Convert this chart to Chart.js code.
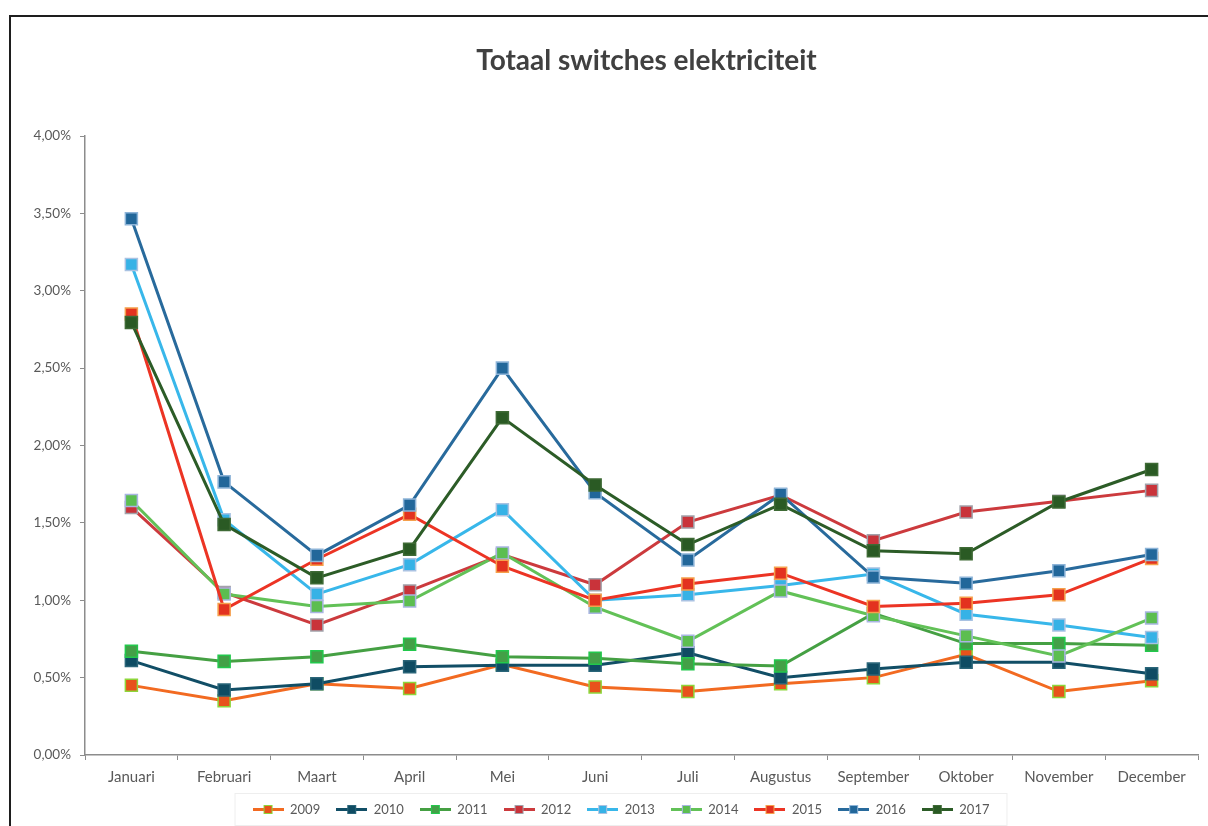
<!DOCTYPE html>
<html>
<head>
<meta charset="utf-8">
<title>Totaal switches elektriciteit</title>
<script src="https://cdn.jsdelivr.net/npm/chart.js@4/dist/chart.umd.min.js"></script>
<style>
  html, body { margin: 0; padding: 0; background: #ffffff; }
  #wrap { width: 1208px; height: 826px; }
</style>
</head>
<body>
<div id="wrap"><canvas id="c" width="1208" height="826"></canvas></div>
<script>
// Maandelijkse switchpercentages (in %)
const chartTitle = 'Totaal switches elektriciteit';
const months = ['Januari', 'Februari', 'Maart', 'April', 'Mei', 'Juni', 'Juli',
                'Augustus', 'September', 'Oktober', 'November', 'December'];
const years = ['2009', '2010', '2011', '2012', '2013', '2014', '2015', '2016', '2017'];

const y2009 = [0.45, 0.35, 0.46, 0.43, 0.585, 0.44, 0.41, 0.46, 0.50, 0.65, 0.41, 0.48];
const y2010 = [0.61, 0.42, 0.46, 0.57, 0.58, 0.58, 0.66, 0.50, 0.555, 0.60, 0.60, 0.525];
const y2011 = [0.67, 0.605, 0.635, 0.715, 0.635, 0.625, 0.59, 0.575, 0.915, 0.72, 0.72, 0.71];
const y2012 = [1.60, 1.05, 0.84, 1.06, 1.295, 1.10, 1.505, 1.68, 1.385, 1.57, 1.64, 1.71];
const y2013 = [3.17, 1.52, 1.04, 1.23, 1.585, 1.00, 1.035, 1.095, 1.17, 0.91, 0.84, 0.76];
const y2014 = [1.645, 1.04, 0.96, 0.995, 1.305, 0.955, 0.735, 1.06, 0.90, 0.77, 0.64, 0.885];
const y2015 = [2.85, 0.94, 1.265, 1.555, 1.22, 1.00, 1.105, 1.175, 0.96, 0.98, 1.035, 1.27];
const y2016 = [3.465, 1.765, 1.29, 1.615, 2.50, 1.695, 1.26, 1.685, 1.15, 1.11, 1.19, 1.295];
const y2017 = [2.795, 1.49, 1.145, 1.33, 2.18, 1.745, 1.36, 1.62, 1.32, 1.30, 1.635, 1.845];

const seriesValues = [y2009, y2010, y2011, y2012, y2013, y2014, y2015, y2016, y2017];

// lijnkleur, vulkleur marker, randkleur marker
const lineColors   = ['#F26A21', '#114E66', '#45A043', '#CC3A3D', '#38B7EA', '#62C157', '#EC3424', '#286A9C', '#2C5C27'];
const markerFills  = ['#E8521B', '#0F4C63', '#43A047', '#C9333A', '#36B2E6', '#5CBE50', '#E3321F', '#22679A', '#2A5A24'];
const markerEdges  = ['#8DD63A', '#2A6579', '#22C84C', '#A2A2AA', '#A9C2E2', '#A9B5E2', '#F5A04C', '#8DB4D8', '#3E6A35'];

const yTicks = { min: 0, max: 4, step: 0.5 };

const FONT = 'Lato, "Open Sans", "DejaVu Sans", sans-serif';
const TEXT_GREY = '#595959';
const AXIS_GREY = '#8C8C8C';

function legendSymbol(i) {
  const w = 31, h = 11;
  const cv = document.createElement('canvas');
  cv.width = w; cv.height = h;
  const g = cv.getContext('2d');
  g.strokeStyle = lineColors[i];
  g.lineWidth = 3;
  g.beginPath(); g.moveTo(0, h / 2); g.lineTo(w, h / 2); g.stroke();
  g.fillStyle = markerFills[i];
  g.fillRect(w / 2 - 4, h / 2 - 4, 8, 8);
  g.strokeStyle = markerEdges[i];
  g.lineWidth = 1;
  g.strokeRect(w / 2 - 4, h / 2 - 4, 8, 8);
  return cv;
}

const datasets = years.map((yr, i) => ({
  label: yr,
  data: seriesValues[i],
  borderColor: lineColors[i],
  backgroundColor: markerFills[i],
  borderWidth: 3,
  pointStyle: 'rect',
  pointRadius: 8.5,
  pointHoverRadius: 8.5,
  pointBackgroundColor: markerFills[i],
  pointBorderColor: markerEdges[i],
  pointBorderWidth: 1.5,
  tension: 0,
  fill: false,
  order: years.length - i   // latere jaren bovenop
}));

// Kader, titel en legendakader
const decorations = {
  id: 'decorations',
  afterLayout(chart) {
    // legenda iets naar rechts, gecentreerd onder het plotgebied
    const lg = chart.legend;
    if (lg) { lg.left += 7; lg.right += 7; }
  },
  beforeDraw(chart) {
    const ctx = chart.ctx;
    ctx.save();
    ctx.fillStyle = '#ffffff';
    ctx.fillRect(0, 0, chart.width, chart.height);
    ctx.restore();
  },
  afterDraw(chart) {
    const ctx = chart.ctx;
    const area = chart.chartArea;
    ctx.save();
    // buitenkader (boven en links)
    ctx.strokeStyle = '#1E1E1E';
    ctx.lineWidth = 2;
    ctx.beginPath();
    ctx.moveTo(10, chart.height);
    ctx.lineTo(10, 16);
    ctx.lineTo(chart.width, 16);
    ctx.stroke();
    // titel
    ctx.fillStyle = '#404040';
    ctx.font = 'bold 28px ' + FONT;
    ctx.textAlign = 'center';
    ctx.textBaseline = 'middle';
    ctx.fillText(chartTitle, (area.left + area.right) / 2 + 5, 61);
    // licht kader rond de legenda
    const hb = chart.legend && chart.legend.legendHitBoxes;
    if (hb && hb.length) {
      const first = hb[0], last = hb[hb.length - 1];
      ctx.strokeStyle = '#EEEEEE';
      ctx.lineWidth = 1;
      ctx.strokeRect(first.left - 17.5, first.top - 9.5, last.left + last.width - first.left + 35, first.height + 19);
    }
    ctx.restore();
  }
};

new Chart(document.getElementById('c'), {
  type: 'line',
  data: { labels: months, datasets: datasets },
  plugins: [decorations],
  options: {
    responsive: false,
    animation: false,
    layout: { padding: { top: 136, left: 28, right: 8, bottom: 0 } },
    plugins: {
      title: { display: false },
      tooltip: { enabled: false },
      legend: {
        display: true,
        position: 'bottom',
        align: 'center',
        labels: {
          usePointStyle: true,
          pointStyleWidth: 31,
          boxHeight: 11,
          padding: 16,
          color: TEXT_GREY,
          font: { family: FONT, size: 13 },
          generateLabels(chart) {
            return chart.data.datasets.map((ds, i) => ({
              text: ds.label,
              datasetIndex: i,
              pointStyle: legendSymbol(i),
              fillStyle: markerFills[i],
              strokeStyle: lineColors[i],
              lineWidth: 0,
              fontColor: TEXT_GREY,
              hidden: false
            }));
          }
        }
      }
    },
    scales: {
      x: {
        type: 'category',
        offset: true,
        afterFit(scale) { scale.height = 32; },
        grid: {
          offset: true,
          display: true,
          drawOnChartArea: false,
          drawTicks: true,
          tickLength: 5,
          color: AXIS_GREY,
          lineWidth: 1
        },
        border: { display: true, color: AXIS_GREY, width: 1.5 },
        ticks: {
          color: TEXT_GREY,
          font: { family: FONT, size: 15 },
          padding: 8,
          maxRotation: 0,
          autoSkip: false
        }
      },
      y: {
        type: 'linear',
        min: yTicks.min,
        max: yTicks.max,
        afterFit(scale) { scale.width = 57; },
        grid: {
          display: true,
          drawOnChartArea: false,
          drawTicks: true,
          tickLength: 5,
          color: AXIS_GREY,
          lineWidth: 1
        },
        border: { display: true, color: AXIS_GREY, width: 1.5 },
        ticks: {
          stepSize: yTicks.step,
          color: TEXT_GREY,
          font: { family: FONT, size: 13.5 },
          padding: 9,
          callback: (v) => v.toFixed(2).replace('.', ',') + '%'
        }
      }
    }
  }
});
</script>
</body>
</html>
